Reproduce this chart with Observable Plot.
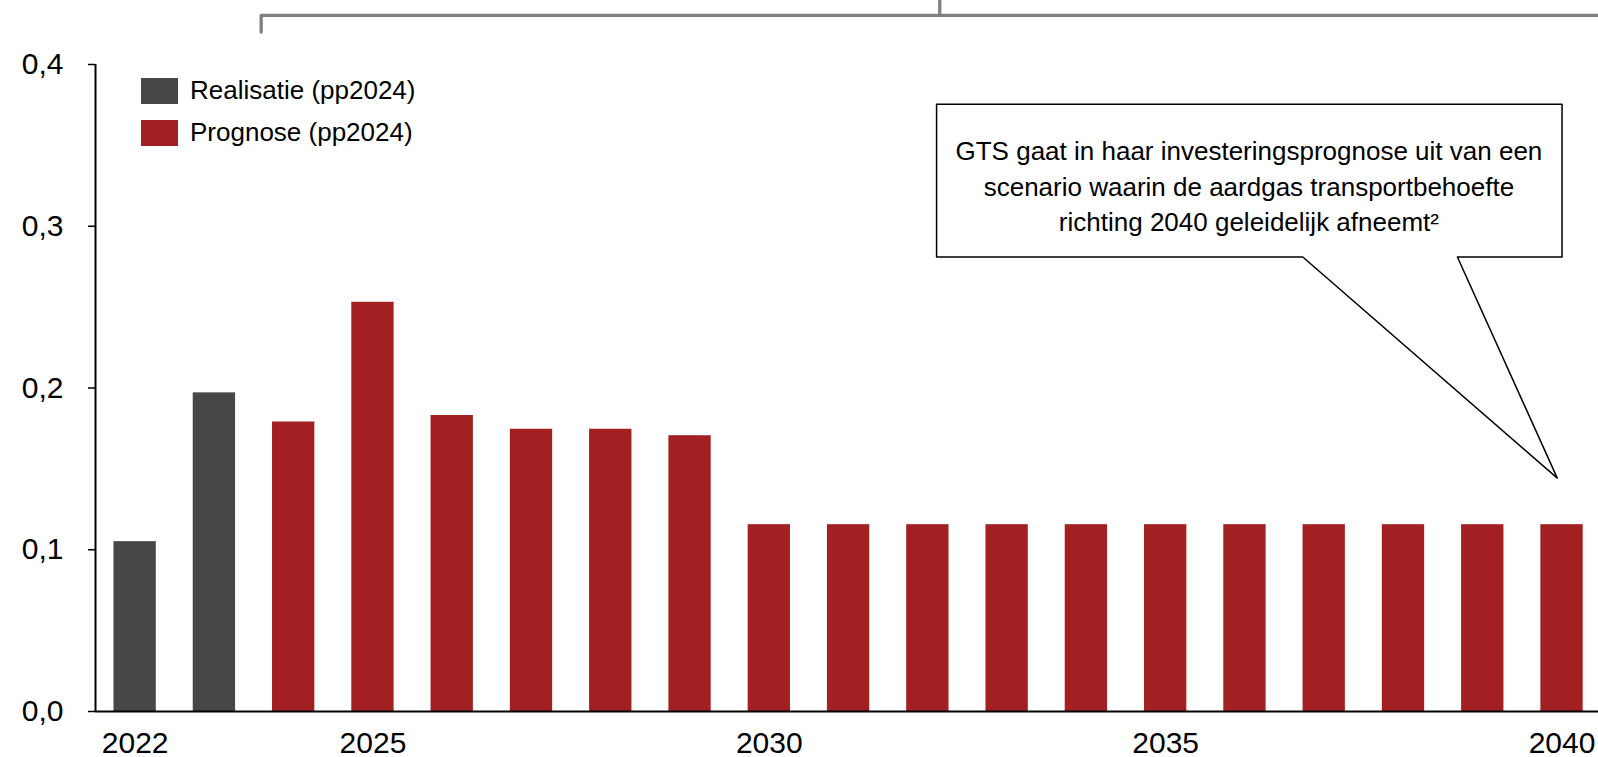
<!DOCTYPE html>
<html>
<head>
<meta charset="utf-8">
<script src="https://cdn.jsdelivr.net/npm/d3@7"></script>
<script src="https://cdn.jsdelivr.net/npm/@observablehq/plot@0.6"></script>
<style>
  html, body { margin: 0; padding: 0; background: #fff; }
  #wrap { position: relative; width: 1598px; height: 757px; font-family: "Liberation Sans", Arial, sans-serif; }
  .leg { position: absolute; left: 141px; display: flex; align-items: center; font-size: 26px; color: #000; }
  .leg .sw { width: 37px; height: 26px; margin-right: 12px; }
</style>
</head>
<body>
<div id="wrap"></div>
<script>
// ---- data ----
const years = [2022, 2023, 2024, 2025, 2026, 2027, 2028, 2029, 2030, 2031, 2032, 2033, 2034, 2035, 2036, 2037, 2038, 2039, 2040];
const values = [0.105, 0.197, 0.179, 0.253, 0.183, 0.1745, 0.1745, 0.1705, 0.1155, 0.1155, 0.1155, 0.1155, 0.1155, 0.1155, 0.1155, 0.1155, 0.1155, 0.1155, 0.1155];
const seriesOf = ["Realisatie (pp2024)", "Realisatie (pp2024)", "Prognose (pp2024)", "Prognose (pp2024)", "Prognose (pp2024)", "Prognose (pp2024)", "Prognose (pp2024)", "Prognose (pp2024)", "Prognose (pp2024)", "Prognose (pp2024)", "Prognose (pp2024)", "Prognose (pp2024)", "Prognose (pp2024)", "Prognose (pp2024)", "Prognose (pp2024)", "Prognose (pp2024)", "Prognose (pp2024)", "Prognose (pp2024)", "Prognose (pp2024)"];
const seriesNames = ["Realisatie (pp2024)", "Prognose (pp2024)"];
const seriesColors = ["#474747", "#A32022"];
const xTicks = [2022, 2025, 2030, 2035, 2040];
const yTicks = [0, 0.1, 0.2, 0.3, 0.4];
const calloutLines = [
  "GTS gaat in haar investeringsprognose uit van een",
  "scenario waarin de aardgas transportbehoefte",
  "richting 2040 geleidelijk afneemt²"
];
// annotation anchors in data units (year, value)
const calloutOutlineX = [2032.11, 2040.0, 2040.0, 2038.68, 2039.94, 2036.73, 2032.11, 2032.11];
const calloutOutlineY = [0.3754, 0.3754, 0.2810, 0.2810, 0.1443, 0.2810, 0.2810, 0.3754];
const calloutTextX = 2036.05;
const calloutTextY = [0.3463, 0.3237, 0.3024];
const bracketX = [2023.59, 2023.59, 2040.47];
const bracketY = [0.4201, 0.4304, 0.4304];
const bracketMidX = [2032.15, 2032.15];
const bracketMidY = [0.4304, 0.4397];

const table = years.map((y, i) => ({year: y, value: values[i], series: seriesOf[i]}));
const halfBar = 0.267;

const chart = Plot.plot({
  width: 1598,
  height: 757,
  marginLeft: 95,
  marginRight: 0,
  marginTop: 64,
  marginBottom: 46,
  style: {fontFamily: "'Liberation Sans', Arial, sans-serif", fontSize: "30px", color: "#000", background: "transparent", overflow: "visible"},
  x: {type: "linear", domain: [2021.5, 2040.46], label: null},
  y: {domain: [0, 0.4], label: null},
  color: {domain: seriesNames, range: seriesColors},
  marks: [
    Plot.rectY(table, {x1: d => d.year - halfBar, x2: d => d.year + halfBar, y1: 0, y2: "value", fill: "series"}),
    Plot.ruleY([0], {stroke: "#000", strokeWidth: 2}),
    Plot.ruleX([2021.5], {y1: 0, y2: 0.4, stroke: "#000", strokeWidth: 2}),
    Plot.axisX({ticks: xTicks, tickFormat: d => String(d), tickSize: 0, tickPadding: 20, fontSize: 30, label: null}),
    Plot.axisY({ticks: yTicks, tickFormat: d => d.toFixed(1).replace(".", ","), tickSize: 7, tickPadding: 25, fontSize: 30, stroke: "#000", strokeWidth: 1.5, label: null}),
    Plot.line(calloutOutlineX.map((x, i) => ({x, y: calloutOutlineY[i]})), {x: "x", y: "y", stroke: "#000", strokeWidth: 1.5, fill: "#fff", curve: "linear"}),
    Plot.text(calloutLines.map((t, i) => ({t, y: calloutTextY[i]})), {x: () => calloutTextX, y: "y", text: "t", fontSize: 26, textAnchor: "middle", fill: "#000"}),
    Plot.line(bracketX.map((x, i) => ({x, y: bracketY[i]})), {x: "x", y: "y", stroke: "#7f7f7f", strokeWidth: 3.3, clip: false}),
    Plot.line(bracketMidX.map((x, i) => ({x, y: bracketMidY[i]})), {x: "x", y: "y", stroke: "#7f7f7f", strokeWidth: 3.3, clip: false})
  ]
});

const wrap = document.getElementById("wrap");
wrap.appendChild(chart);
// legend overlay
const legTops = [75, 117];
seriesNames.forEach((name, i) => {
  const row = document.createElement("div");
  row.className = "leg";
  row.style.top = legTops[i] + "px";
  const sw = document.createElement("div");
  sw.className = "sw";
  sw.style.background = seriesColors[i];
  const lab = document.createElement("span");
  lab.textContent = name;
  row.appendChild(sw);
  row.appendChild(lab);
  wrap.appendChild(row);
});
</script>
</body>
</html>
